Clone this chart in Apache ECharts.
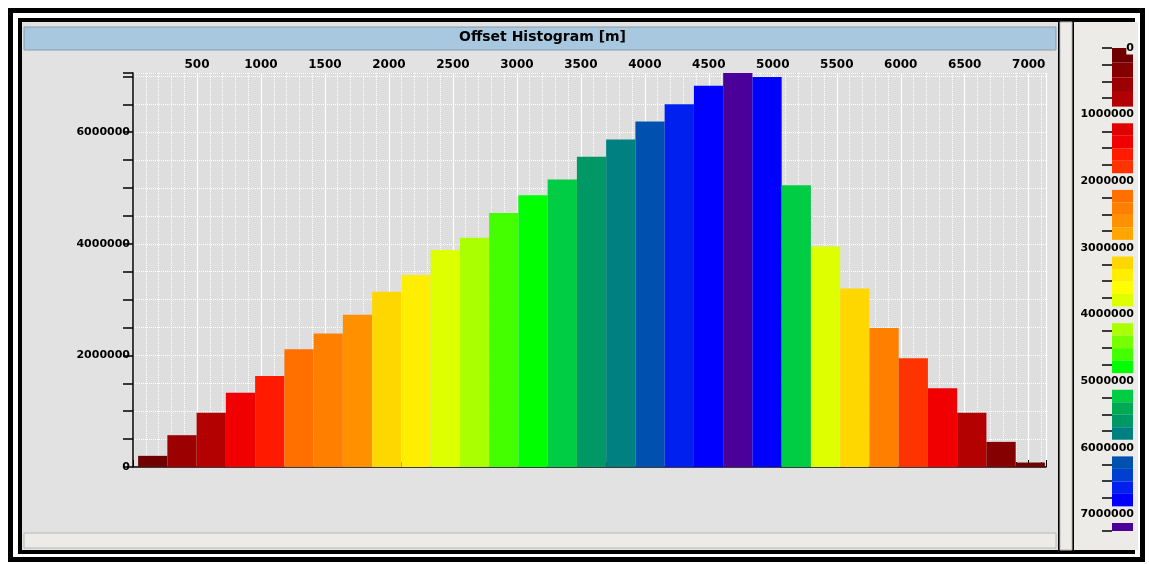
<!DOCTYPE html>
<html><head><meta charset="utf-8">
<script src="https://cdn.jsdelivr.net/npm/echarts@6/dist/echarts.min.js"></script>
<style>html,body{margin:0;padding:0;background:#fff}#c{width:1149px;height:564px}</style>
</head><body><div id="c"></div>
<script>
// Histogram bins (offset in m) and counts
const binStart = 40;
const binWidth = 228.6;
const counts = [200000, 570000, 970000, 1330000, 1630000, 2110000, 2390000, 2730000, 3140000, 3440000,
  3890000, 4110000, 4550000, 4870000, 5150000, 5560000, 5870000, 6190000, 6500000, 6830000,
  7100000, 6990000, 5050000, 3950000, 3200000, 2490000, 1950000, 1410000, 970000, 450000, 80000];
// colour legend: one colour per 250000 step
const legendStep = 250000;
const palette = ['#6e0000','#850000','#9c0000','#b30000',
  '#e00000','#f00000','#ff1a00','#ff3300',
  '#ff7000','#ff8000','#ff9000','#ffa500',
  '#ffd700','#ffee00','#ffff00','#ddff00',
  '#aaff00','#77ff00','#44ff00','#00ff00',
  '#00cc44','#00aa55','#009966','#008080',
  '#0050b0','#0040d0','#0020f0','#0000ff',
  '#4b0099'];
const legendTicks = [0,1000000,2000000,3000000,4000000,5000000,6000000,7000000];

const colorOf = v => palette[Math.min(palette.length-1, Math.floor(v/legendStep))];
const barData = counts.map((v,i)=>[binStart+i*binWidth, binStart+(i+1)*binWidth, v]);
const legData = palette.map((c,i)=>{
  const g=Math.floor(i/4), k=i%4, s=(g===0?0:0.13)*1e6, e=0.88e6;
  const step=(e-s)/4;
  const y0=g*1e6+s+k*step;
  return [y0, g===7?7250000:y0+step, i];
});

const chart = echarts.init(document.getElementById('c'));
const lbl = {fontFamily:'DejaVu Sans', fontWeight:'bold', fontSize:11, color:'#000'};
chart.setOption({
  animation:false,
  graphic:[
    {type:'rect',shape:{x:8,y:8,width:1137,height:554},style:{fill:'#000'},z:-10},
    {type:'rect',shape:{x:13,y:13,width:1127,height:544},style:{fill:'#fff'},z:-10},
    {type:'rect',shape:{x:18,y:18,width:1117,height:536},style:{fill:'#000'},z:-10},
    {type:'rect',shape:{x:22,y:22,width:1036,height:528},style:{fill:'#e2e2e2'},z:-9},
    {type:'rect',shape:{x:24,y:27,width:1032,height:23},style:{fill:'#a8c8e0',stroke:'#8a9aa8'},z:-8},
    {type:'text',left:459,top:30,style:{text:'Offset Histogram [m]',font:'bold 14px "DejaVu Sans"',fill:'#000'}},
    {type:'rect',shape:{x:24,y:533,width:1032,height:15},style:{fill:'#ecebe8',stroke:'#b8b8b8'},z:-8},
    {type:'rect',shape:{x:1060,y:22,width:12,height:528},style:{fill:'#ecebe8',stroke:'#b8b8b8'},z:-9},
    {type:'rect',shape:{x:1074,y:22,width:64,height:528},style:{fill:'#ecebe8'},z:-9}
  ],
  grid:[
    {left:133,top:73,width:913,height:394,show:true,backgroundColor:'#dedede',borderWidth:0},
    {left:1112,top:48,width:21,height:483}
  ],
  xAxis:[
    {type:'value',gridIndex:0,position:'top',min:0,max:7135,interval:500,
     axisLine:{show:true,lineStyle:{color:'#000',width:1.5}},
     axisTick:{show:true,inside:false,length:7,lineStyle:{color:'#000'}},
     minorTick:{show:true,splitNumber:5,length:5,lineStyle:{color:'#000'}},
     axisLabel:Object.assign({margin:2,formatter:v=>v===0?'':String(v)},lbl,{fontSize:12}),
     splitLine:{show:true,lineStyle:{color:'#fff',width:1.2}},
     minorSplitLine:{show:true,lineStyle:{color:'#fff',type:'dotted'}}},
    {type:'value',gridIndex:1,min:0,max:1,show:false}
  ],
  yAxis:[
    {type:'value',gridIndex:0,min:0,max:7060000,interval:500000,
     axisLine:{show:true,lineStyle:{color:'#000',width:1.5}},
     axisTick:{show:true,length:10,lineStyle:{color:'#000',width:1.5}},
     axisLabel:Object.assign({margin:3,formatter:v=>v%2000000===0?String(v):''},lbl),
     splitLine:{show:true,lineStyle:{color:'#fff',type:'dotted'}}},
    {type:'value',gridIndex:1,min:0,max:7250000,inverse:true,interval:250000,z:10,
     axisLine:{show:false},
     axisTick:{show:true,length:10,lineStyle:{color:'#000',width:1.5}},
     axisLabel:Object.assign({margin:-22,backgroundColor:'#ecebe8',padding:[1,0],
       formatter:v=>legendTicks.includes(v)?String(v):''},lbl),
     splitLine:{show:false}}
  ],
  series:[
    {type:'custom',xAxisIndex:0,yAxisIndex:0,data:barData,clip:true,
     renderItem:(p,api)=>{
       const a=api.coord([api.value(0),api.value(2)]);
       const b=api.coord([api.value(1),0]);
       return {type:'rect',shape:{x:a[0],y:a[1],width:b[0]-a[0],height:b[1]-a[1]},
         style:{fill:colorOf(api.value(2))}};
     }},
    {type:'custom',xAxisIndex:1,yAxisIndex:1,data:legData,z:1,
     renderItem:(p,api)=>{
       const a=api.coord([0,api.value(0)]);
       const b=api.coord([1,api.value(1)]);
       return {type:'rect',shape:{x:a[0],y:a[1],width:b[0]-a[0],height:b[1]-a[1]},
         style:{fill:palette[api.value(2)]}};
     }}
  ]
});
</script></body></html>
